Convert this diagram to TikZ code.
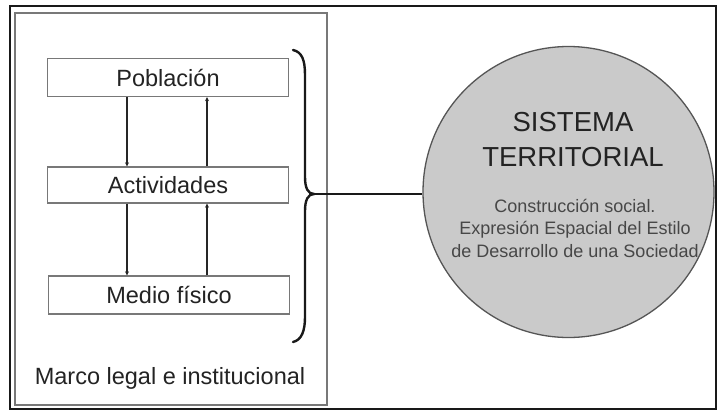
\documentclass[tikz,border=0pt]{standalone}
\usepackage{fontspec}
\setmainfont{Liberation Sans}
\usetikzlibrary{arrows.meta,calc}
\definecolor{boxline}{RGB}{120,120,120}
\definecolor{txt}{RGB}{35,35,35}
\definecolor{circfill}{RGB}{202,202,202}
\definecolor{circline}{RGB}{85,85,85}
\tikzset{
  compbox/.style={draw=boxline, line width=1.3pt, fill=white, minimum width=241pt, minimum height=38pt, inner sep=0pt, text=txt, font=\fontsize{23.5}{26}\selectfont},
  flow/.style={line width=2.4pt, draw=black!85, -{Stealth[length=4pt,width=4pt]}},
  lbl/.style={text=txt, inner sep=0pt},
}
\begin{document}
\begin{tikzpicture}[x=1pt,y=-1pt]
\useasboundingbox (0,0) rectangle (717,413);
\fill[white] (0,0) rectangle (717,413);
% outer frame
\draw[line width=1.6pt, black!90] (10,6) rectangle (716,409);
% inner frame
\draw[line width=1.3pt, boxline] (15,13) rectangle (327,405);
% boxes
\node[compbox] (pob) at (168,77.5) {Población};
\node[compbox, minimum height=36pt] (act) at (168,185) {Actividades};
\node[compbox] (med) at (169,295) {Medio físico};
\coordinate (xl) at (127,0);
\coordinate (xr) at (207,0);
\draw[flow] (pob.south -| xl) -- (act.north -| xl);
\draw[flow] (act.north -| xr) -- (pob.south -| xr);
\draw[flow] (act.south -| xl) -- (med.north -| xl);
\draw[flow] (med.north -| xr) -- (act.south -| xr);
% label
\node[lbl, font=\fontsize{23.5}{26}\selectfont] (marco) at (170,378) {Marco legal e institucional};
% brace
\coordinate (btop) at (293,50);
\coordinate (bbot) at (293,342);
\coordinate (tip) at (314,194);
\draw[line width=2.4pt, black!90, line cap=round]
  (btop) .. controls (302,52) and (305,60) .. (305,75)
  -- (305,177) .. controls (305,188) and (308,194) .. (tip)
  .. controls (308,194) and (305,200) .. (305,211)
  -- (305,317) .. controls (305,330) and (302,340) .. (bbot);
% circle
\node[circle, draw=circline, line width=1.3pt, fill=circfill, minimum size=291pt, inner sep=0pt] (sys) at (568.5,192) {};
\draw[line width=2.4pt, black!90] (tip) -- (tip -| sys.west);
\node[lbl, align=center, font=\fontsize{27.5}{35}\selectfont] (title) at (573,140) {SISTEMA\\TERRITORIAL};
\node[lbl, align=center, text=black!72, font=\fontsize{18}{22.5}\selectfont] (sub) at (575,228) {Construcción social.\\Expresión Espacial del Estilo\\de Desarrollo de una Sociedad};
\end{tikzpicture}
\end{document}
